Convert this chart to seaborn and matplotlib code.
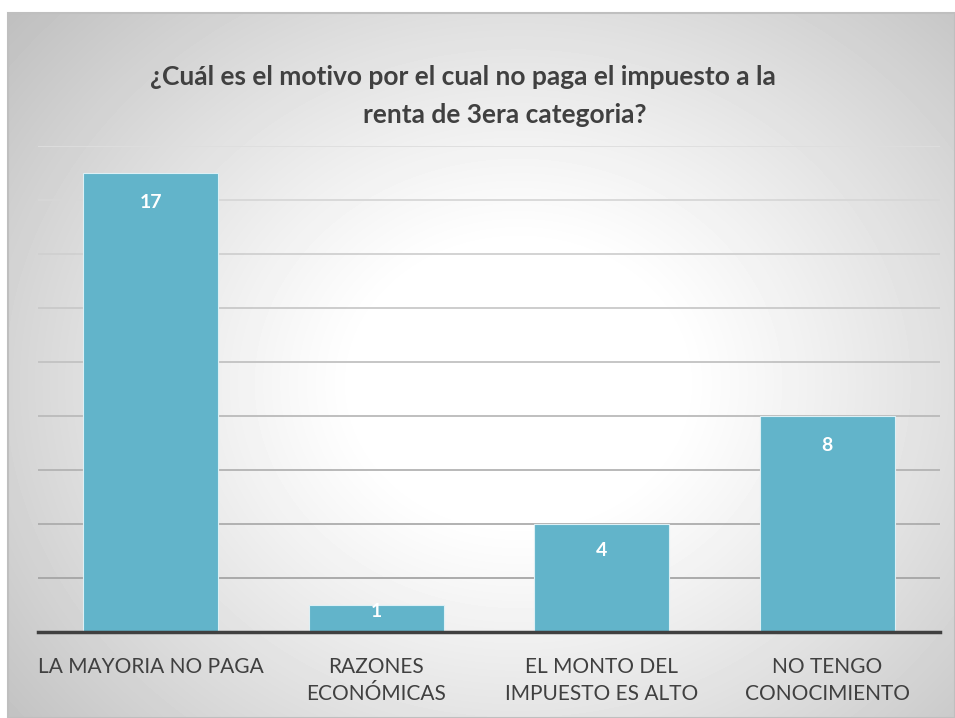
import numpy as np
import pandas as pd
import seaborn as sns
import matplotlib.pyplot as plt
from matplotlib.patches import Rectangle

# datos de la encuesta
categorias = ["LA MAYORIA NO PAGA", "RAZONES\nECONÓMICAS", "EL MONTO DEL\nIMPUESTO ES ALTO", "NO TENGO\nCONOCIMIENTO"]
respuestas = [17, 1, 4, 8]
titulo_1 = "¿Cuál es el motivo por el cual no paga el impuesto a la"
titulo_2 = "renta de 3era categoria?"

df = pd.DataFrame({"motivo": categorias, "n": respuestas})

sns.set_theme(style="white")
plt.rcParams['font.family'] = ['Lato', 'DejaVu Sans']

W, H = 955, 718
fig = plt.figure(figsize=(W/100, H/100), dpi=100)
fig.patch.set_facecolor("white")

# fondo con degradado radial (como en excel)
fx0, fy0 = 8, 13
ax_bg = fig.add_axes([fx0/W, 0, (W-fx0)/W, (H-fy0)/H])
ny, nx = H-fy0, W-fx0
yy, xx = np.mgrid[0:ny, 0:nx]
r = np.sqrt(((xx - 510)/540)**2 + ((yy - 370)/460)**2)
val = 1 - 0.24*np.clip((r - 0.3)/0.9, 0, None)**1.1
ax_bg.imshow(val, cmap='gray', vmin=0, vmax=1, aspect='auto', interpolation='bilinear')
ax_bg.set_axis_off()
fig.patches.append(Rectangle((fx0/W, 0), (W-fx0)/W, (H-fy0)/H, transform=fig.transFigure,
                             fill=False, edgecolor="#BFBFBF", linewidth=1.5, zorder=5))

ax = fig.add_axes([38/W, 86/H, 902/W, 486/H])
ax.patch.set_alpha(0)

# lineas de cuadricula, mas claras arriba
for v in range(2, 19, 2):
    t = v/18
    g = 0.62 + t*0.25
    ax.axhline(v, color=(g, g, g), linewidth=1.3, zorder=1)

sns.barplot(data=df, x="motivo", y="n", color="#62B4CA", width=0.6, saturation=1,
            edgecolor="#DDF0F5", linewidth=0.8, ax=ax, zorder=3)

for ii, v in enumerate(respuestas):
    ax.text(ii, v - min(1.1, v*0.25), str(v), ha='center', va='center', color='white',
            fontweight='bold', fontsize=14, zorder=4)

ax.set_ylim(0, 18)
ax.set_xlim(-0.5, 3.5)
ax.set_yticks([])
ax.set_xlabel("")
ax.set_ylabel("")
for s in ['top', 'right', 'left']:
    ax.spines[s].set_visible(False)
ax.spines['bottom'].set_color("#404040")
ax.spines['bottom'].set_linewidth(2.5)
ax.spines['bottom'].set_zorder(5)
ax.tick_params(axis='x', length=0, pad=18, labelsize=15, labelcolor="#404040")
for lbl in ax.get_xticklabels():
    lbl.set_linespacing(1.45)

fig.text(463/W, 1 - 77/H, titulo_1, ha='center', va='center', fontsize=19,
         fontweight='bold', color="#404040")
fig.text(505/W, 1 - 115/H, titulo_2, ha='center', va='center', fontsize=19,
         fontweight='bold', color="#404040")

fig.savefig("out.png", dpi=100)
